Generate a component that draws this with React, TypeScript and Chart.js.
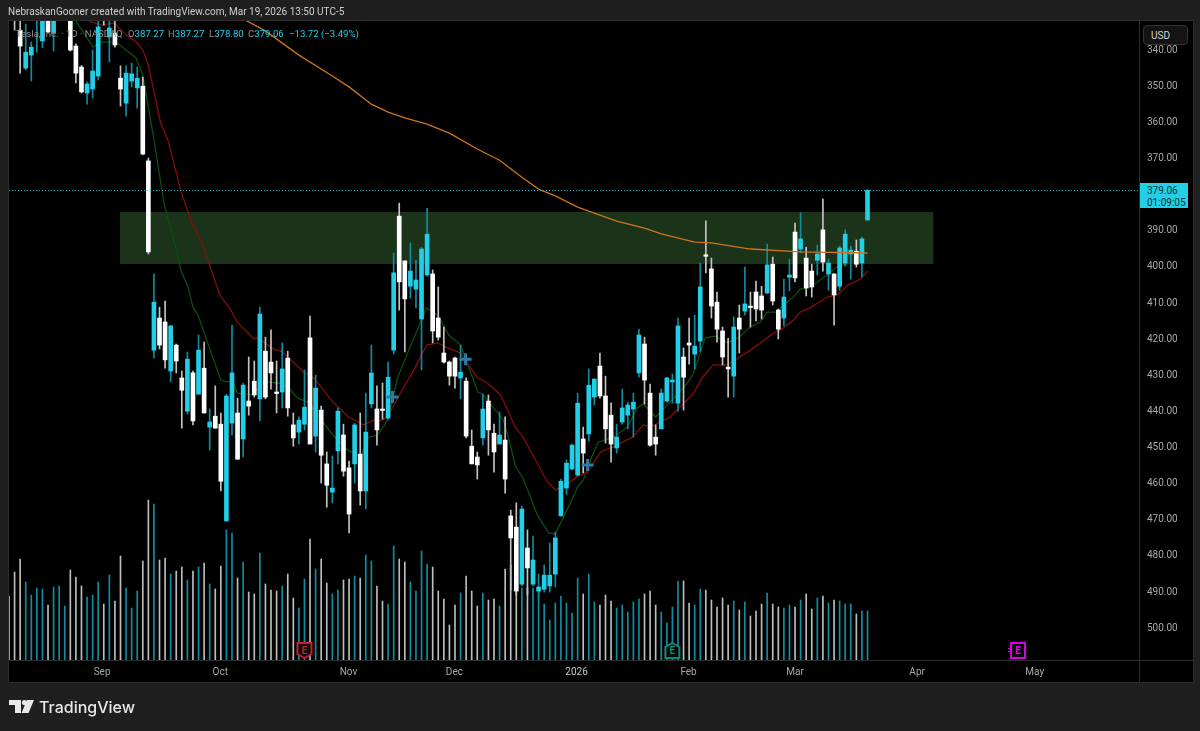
import { useEffect, useRef } from "react";
import { Chart, registerables } from "chart.js";

Chart.register(...registerables);

// daily bars (axis is inverted, prices grow downwards)
const opens = [
  322.0, 327.7, 334.7, 345.2, 341.6, 331.3, 337.7, 330.5, 335.5, 329.7,
  329.1, 329.1, 339.1, 344.9, 352.1, 351.0, 347.4, 327.7, 336.6, 335.5,
  348.0, 354.9, 348.8, 350.7, 350.2, 370.9, 423.3, 414.4, 415.5, 429.1,
  421.9, 431.0, 440.2, 429.6, 435.5, 428.3, 444.6, 441.6, 443.8, 470.6,
  443.5, 440.7, 447.9, 437.4, 431.9, 436.8, 423.6, 426.6, 434.9, 434.9,
  425.5, 444.0, 446.0, 443.8, 419.9, 447.1, 439.9, 454.8, 462.6, 451.2,
  446.8, 455.9, 454.8, 452.1, 462.3, 438.2, 439.6, 439.6, 442.1, 423.3,
  386.2, 398.6, 405.6, 406.4, 414.7, 402.5, 402.2, 414.4, 424.1, 426.6,
  425.5, 431.0, 431.9, 449.9, 452.9, 447.6, 437.4, 446.3, 449.3, 448.2,
  469.2, 472.3, 488.1, 478.1, 488.1, 490.0, 489.5, 488.6, 485.3, 469.2,
  461.5, 456.2, 457.9, 447.9, 446.5, 436.3, 427.7, 436.0, 441.3, 450.4,
  443.2, 441.3, 439.6, 429.6, 421.6, 435.2, 447.4, 445.1, 437.4, 432.1,
  438.0, 425.2, 421.3, 424.4, 420.8, 396.9, 400.8, 410.0, 418.0, 428.0,
  430.5, 414.4, 412.5, 411.1, 407.2, 408.3, 407.5, 399.5, 412.2, 414.4,
  403.1, 390.6, 395.3, 397.8, 401.4, 398.4, 390.0, 402.2, 402.2, 405.6,
  399.2, 396.7, 395.9, 399.2, 387.27,
];
const closes = [
  325.0, 330.5, 339.1, 340.8, 339.4, 329.1, 330.5, 335.2, 329.1, 327.7,
  326.9, 340.2, 346.6, 351.8, 349.6, 346.0, 333.8, 330.5, 334.1, 338.8,
  351.0, 346.6, 346.8, 348.0, 369.0, 396.1, 410.0, 421.9, 426.0, 416.6,
  426.3, 434.4, 425.8, 442.9, 423.3, 440.7, 443.2, 444.9, 459.6, 436.0,
  429.6, 453.5, 433.0, 438.8, 435.7, 413.3, 436.3, 429.6, 435.2, 428.5,
  439.3, 447.6, 442.7, 439.1, 449.3, 433.8, 452.4, 460.7, 461.5, 440.2,
  456.8, 468.7, 444.0, 462.3, 446.0, 429.6, 445.4, 439.9, 430.8, 401.9,
  404.4, 409.1, 401.4, 403.9, 395.3, 391.2, 418.0, 419.7, 426.6, 430.5,
  430.5, 429.4, 447.1, 454.8, 455.1, 439.6, 445.4, 451.5, 446.8, 459.0,
  475.3, 490.0, 467.3, 483.6, 481.4, 488.9, 485.6, 485.6, 475.3, 459.6,
  454.6, 449.6, 438.0, 451.8, 433.0, 431.3, 436.0, 445.1, 449.3, 447.4,
  439.3, 438.5, 437.7, 419.1, 431.6, 449.6, 449.3, 435.2, 431.0, 431.6,
  416.6, 430.8, 421.9, 422.2, 405.8, 397.2, 411.1, 417.5, 425.2, 428.5,
  416.9, 417.5, 410.5, 411.4, 411.9, 412.2, 399.7, 409.7, 417.5, 408.6,
  402.5, 403.3, 392.5, 406.1, 405.8, 396.7, 398.9, 399.2, 408.0, 395.0,
  391.2, 395.6, 399.5, 392.5, 379.06,
];
const lows = [
  321.0, 326.4, 331.9, 333.0, 338.0, 328.0, 329.5, 329.5, 328.0, 326.5,
  326.4, 328.0, 338.5, 344.5, 349.1, 340.2, 331.9, 326.5, 331.9, 331.9,
  344.6, 344.6, 343.8, 344.9, 347.7, 370.1, 402.2, 411.4, 409.7, 416.4,
  421.6, 429.1, 423.8, 429.1, 419.1, 421.1, 439.6, 433.2, 440.7, 435.5,
  416.4, 436.6, 432.4, 425.2, 426.3, 411.4, 419.7, 417.7, 426.3, 421.3,
  423.6, 440.7, 441.8, 428.8, 413.9, 430.2, 438.8, 451.5, 452.6, 439.3,
  443.8, 454.0, 443.5, 440.7, 435.2, 421.9, 433.2, 432.4, 426.6, 396.4,
  382.6, 398.6, 393.6, 398.4, 394.8, 384.0, 401.1, 405.8, 416.9, 426.3,
  425.2, 421.9, 431.0, 445.4, 451.5, 435.5, 435.7, 443.8, 440.4, 441.8,
  467.6, 465.6, 466.5, 473.1, 474.8, 485.3, 482.8, 476.7, 473.7, 459.0,
  453.7, 449.3, 435.2, 444.6, 428.5, 431.3, 424.1, 430.5, 437.9, 443.8,
  434.1, 437.7, 435.2, 417.5, 419.7, 432.7, 444.0, 434.1, 430.8, 429.9,
  414.4, 422.7, 414.4, 413.6, 399.2, 387.5, 397.8, 407.2, 416.9, 420.0,
  414.1, 410.8, 400.3, 407.2, 404.2, 405.6, 393.9, 397.5, 411.9, 403.6,
  398.1, 388.1, 385.3, 394.8, 399.5, 394.2, 381.5, 398.1, 402.2, 394.5,
  390.0, 394.5, 392.8, 392.0, 378.8,
];
const highs = [
  326.0, 334.7, 346.6, 345.7, 348.8, 340.8, 339.6, 335.5, 340.5, 330.5,
  330.5, 340.5, 349.3, 352.1, 355.2, 353.5, 348.5, 333.3, 343.5, 339.4,
  355.7, 358.5, 350.4, 356.3, 369.2, 396.7, 425.5, 423.0, 428.3, 432.1,
  429.6, 444.9, 441.0, 444.0, 435.5, 440.7, 451.0, 444.9, 462.3, 470.6,
  446.8, 453.5, 452.9, 441.3, 436.3, 442.9, 436.8, 434.1, 440.7, 439.3,
  441.6, 449.9, 449.3, 445.4, 449.3, 451.5, 460.1, 466.8, 465.6, 454.8,
  458.2, 473.9, 460.1, 466.2, 467.3, 439.3, 449.6, 442.4, 442.4, 424.4,
  412.2, 423.8, 408.9, 411.6, 428.8, 402.8, 421.3, 420.5, 426.9, 433.0,
  433.8, 436.8, 447.6, 454.8, 459.0, 449.6, 452.4, 457.1, 449.3, 462.9,
  489.7, 491.1, 488.6, 491.1, 488.6, 491.7, 490.3, 490.3, 488.9, 469.2,
  463.2, 456.5, 458.2, 457.3, 448.5, 438.5, 436.6, 449.0, 454.3, 451.8,
  443.8, 445.1, 447.4, 430.8, 438.2, 449.9, 452.4, 445.1, 437.7, 438.0,
  440.2, 439.9, 427.2, 428.5, 423.8, 401.9, 414.4, 421.1, 427.4, 436.3,
  436.3, 424.1, 413.6, 416.9, 415.2, 414.7, 407.5, 410.8, 420.2, 416.6,
  406.9, 404.4, 396.4, 408.3, 408.6, 402.5, 401.4, 406.7, 416.4, 406.7,
  400.0, 403.6, 400.3, 403.1, 387.27,
];
// volume in millions of shares
const volumes = [
  64, 88, 101, 78, 65, 72, 71, 55, 73, 74, 54, 90, 83, 74, 63, 65, 78, 56, 85, 59,
  104, 72, 52, 69, 99, 160, 156, 100, 102, 86, 89, 93, 80, 89, 93, 97, 76, 71, 94, 130,
  127, 82, 98, 68, 66, 107, 76, 70, 69, 74, 86, 62, 52, 81, 121, 91, 101, 77, 66, 70,
  80, 81, 84, 82, 105, 99, 74, 59, 56, 114, 101, 98, 78, 69, 109, 96, 93, 69, 61, 35,
  55, 67, 84, 69, 54, 67, 60, 61, 54, 91, 95, 75, 72, 72, 72, 69, 56, 40, 57, 64,
  57, 47, 82, 66, 86, 58, 55, 65, 59, 52, 55, 48, 58, 61, 66, 69, 55, 48, 37, 53,
  79, 79, 57, 55, 71, 70, 60, 53, 62, 55, 59, 50, 58, 44, 49, 56, 67, 56, 53, 52,
  55, 53, 60, 66, 51, 62, 64, 57, 60, 59, 56, 56, 46, 49, 49,
];

// moving averages, read at the bends only
const slowMaBars = [42, 46, 52, 58, 61, 65, 68, 71, 75, 79, 84, 88, 92, 95, 98, 102, 106, 109, 114, 117, 123, 126, 133, 142, 154];
const slowMaValues = [331.6, 334.9, 341.6, 347.4, 350.4, 355.2, 357.4, 359.0, 360.7, 363.2, 367.6, 370.7, 375.4, 378.7, 380.6, 383.7, 385.9, 387.6, 389.5, 391.1, 393.4, 393.6, 395.3, 396.1, 396.4];
const redMaBars = [
  14.3, 16.5, 18.8, 21.0, 22.8, 24.0, 24.9, 27.2, 28.5, 30.8, 32.6, 34.4, 35.7, 37.8, 39.8, 40.9, 43.9, 44.6, 47.5, 49.1,
  52.9, 54.7, 58.1, 60.9, 63.6, 65.4, 66.7, 67.9, 70.3, 72.9, 74.9, 76.9, 78.7, 81.0, 83.9, 85.8, 88.2, 90.9, 92.1, 96.6,
  98.0, 99.8, 102.0, 103.8, 106.1, 108.4, 111.8, 113.8, 115.1, 118.6, 122.8, 124.4, 126.3, 128.9, 133.0, 134.8, 137.1, 138.4, 140.7, 141.9,
  143.7, 146.8, 148.6, 150.5, 152.7, 154,
];
const redMaValues = [
  332.2, 333.3, 332.7, 336.0, 338.0, 340.2, 343.8, 360.4, 365.1, 379.0, 387.3, 392.8, 398.4, 408.0, 412.2, 415.5, 420.2, 419.9, 423.0, 423.8,
  429.4, 431.0, 437.7, 441.8, 444.0, 442.7, 442.9, 441.8, 434.9, 428.0, 421.9, 421.3, 422.7, 424.1, 430.8, 432.4, 435.7, 444.9, 447.1, 459.8,
  462.0, 460.7, 458.2, 457.1, 451.5, 450.1, 447.4, 444.0, 444.6, 441.8, 435.2, 430.8, 427.4, 427.4, 423.3, 421.3, 418.6, 417.7, 415.0, 412.8,
  411.6, 408.6, 408.0, 405.3, 403.6, 401.4,
];
const greenMaBars = [
  12.0, 15.1, 16.5, 19.2, 22.8, 24.0, 26.0, 27.8, 30.5, 30.8, 32.1, 33.0, 33.9, 36.7, 38.0, 38.9, 40.1, 41.0, 43.7, 45.7,
  48.2, 50.0, 51.8, 53.6, 58.1, 60.8, 63.1, 64.5, 66.1, 67.9, 69.7, 71.7, 74.9, 76.9, 78.9, 81.0, 84.1, 85.1, 88.7, 89.6,
  90.9, 92.1, 94.8, 96.8, 98.0, 100.7, 102.0, 103.0, 104.3, 105.7, 108.4, 110.9, 112.7, 113.8, 116.0, 118.6, 121.7, 122.8, 124.9, 126.7,
  128.9, 130.8, 133.0, 134.8, 136.0, 137.5, 140.7, 141.9, 143.7, 146.8, 148.7, 150.9, 154,
];
const greenMaValues = [
  332.2, 339.4, 338.0, 338.0, 342.4, 347.1, 365.1, 382.6, 398.4, 401.1, 405.8, 411.4, 413.6, 426.0, 431.6, 432.1, 431.9, 435.2, 435.7, 432.1,
  432.4, 433.5, 436.6, 437.7, 446.8, 451.0, 452.9, 447.4, 446.8, 442.7, 431.0, 423.3, 411.6, 413.6, 419.1, 421.9, 434.9, 435.7, 442.7, 447.6,
  455.7, 458.4, 469.0, 473.9, 474.2, 465.6, 461.2, 459.3, 453.7, 448.8, 447.4, 444.6, 439.3, 438.2, 441.8, 437.7, 432.4, 429.6, 419.9, 419.4,
  421.3, 419.9, 416.9, 415.5, 412.8, 412.8, 408.6, 406.4, 405.8, 402.5, 400.0, 399.2, 395.0,
];

// cross markers
const crossBars = [68.8, 81.9, 103.8];
const crossPrices = [436.3, 425.8, 455.1];

// shaded zone
const zoneBars = [19.9, 165.8];
const zonePrices = [385.05, 399.45];

const lastPrice = 379.06;

const earningsBars = [53, 119, 181];
const earningsColors = ["#c0202f", "#0e8a7b", "#dc00e6"];
const earningsKinds = ["past", "next", "future"];

const priceTicks = [340, 350, 360, 370, 390, 400, 410, 420, 430, 440, 450, 460, 470, 480, 490, 500];
const monthTicks = [16.7, 37.9, 60.9, 79.9, 101.8, 121.9, 141, 162.9, 184];
const monthLabels = ["Sep", "Oct", "Nov", "Dec", "2026", "Feb", "Mar", "Apr", "May"];

const legendValues = [
  ["O", "387.27"],
  ["H", "387.27"],
  ["L", "378.80"],
  ["C", "379.06"],
];
const legendLefts = [128, 168, 209, 248];

const FONT = "Roboto, sans-serif";
const CYAN = "#22cfe8";
const WHITE = "#ffffff";

const isCyan = (i: number) => closes[i] < opens[i];

const paneDecor = {
  id: "paneDecor",
  beforeDraw(chart: any) {
    const { ctx, chartArea: a } = chart;
    ctx.save();
    ctx.fillStyle = "#1f1f1f";
    ctx.fillRect(0, 0, chart.width, chart.height);
    ctx.fillStyle = "#000000";
    ctx.fillRect(a.left, a.top, 1184, 661);
    ctx.strokeStyle = "#2c2c2c";
    ctx.strokeRect(a.left - 0.5, a.top - 0.5, 1185, 662);
    ctx.beginPath();
    ctx.moveTo(a.right + 0.5, a.top);
    ctx.lineTo(a.right + 0.5, a.top + 661);
    ctx.moveTo(a.left, a.bottom + 0.5);
    ctx.lineTo(a.left + 1184, a.bottom + 0.5);
    ctx.stroke();
    ctx.restore();
  },
  beforeDatasetsDraw(chart: any) {
    const { ctx, scales } = chart;
    const x0 = scales.x.getPixelForValue(zoneBars[0]);
    const x1 = scales.x.getPixelForValue(zoneBars[1]);
    const y0 = scales.y.getPixelForValue(zonePrices[0]);
    const y1 = scales.y.getPixelForValue(zonePrices[1]);
    ctx.save();
    ctx.fillStyle = "#1a3319";
    ctx.fillRect(x0, y0, x1 - x0, y1 - y0);
    ctx.restore();
  },
  afterDatasetsDraw(chart: any) {
    const { ctx, scales, chartArea: a } = chart;
    const y = Math.round(scales.y.getPixelForValue(lastPrice)) + 0.5;
    ctx.save();
    ctx.strokeStyle = "#1fb4ca";
    ctx.setLineDash([1, 2]);
    ctx.beginPath();
    ctx.moveTo(a.left, y);
    ctx.lineTo(a.right, y);
    ctx.stroke();
    ctx.setLineDash([]);

    earningsBars.forEach((bar, k) => {
      const cx = scales.x.getPixelForValue(bar);
      const top = a.bottom - 17;
      const bot = a.bottom - 2;
      const l = cx - 7;
      const r = cx + 7;
      ctx.strokeStyle = earningsColors[k];
      ctx.fillStyle = "#0a0a0a";
      ctx.lineWidth = 2;
      ctx.beginPath();
      if (earningsKinds[k] === "past") {
        ctx.moveTo(l, top);
        ctx.lineTo(r, top);
        ctx.lineTo(r, bot - 4);
        ctx.lineTo(cx, bot);
        ctx.lineTo(l, bot - 4);
      } else if (earningsKinds[k] === "next") {
        ctx.moveTo(cx, top);
        ctx.lineTo(r, top + 4);
        ctx.lineTo(r, bot);
        ctx.lineTo(l, bot);
        ctx.lineTo(l, top + 4);
      } else {
        ctx.moveTo(l, top);
        ctx.lineTo(r, top);
        ctx.lineTo(r, bot);
        ctx.lineTo(l, bot);
      }
      ctx.closePath();
      ctx.fill();
      ctx.stroke();
      if (earningsKinds[k] === "future") {
        // small dashes on the left side of the future marker
        ctx.lineWidth = 1;
        ctx.beginPath();
        ctx.moveTo(l - 3, top + 5.5);
        ctx.lineTo(l, top + 5.5);
        ctx.moveTo(l - 3, top + 8.5);
        ctx.lineTo(l, top + 8.5);
        ctx.stroke();
      }
      ctx.fillStyle = earningsColors[k];
      ctx.font = `bold 10px ${FONT}`;
      ctx.textAlign = "center";
      ctx.textBaseline = "middle";
      ctx.fillText("E", cx, (top + bot) / 2 + 0.5);
    });
    ctx.restore();
  },
};

const box = (left: number, top: number, extra: any = {}) => ({
  position: "absolute" as const,
  left,
  top,
  whiteSpace: "nowrap" as const,
  fontFamily: FONT,
  ...extra,
});

export default function App() {
  const canvasRef = useRef<HTMLCanvasElement>(null);

  useEffect(() => {
    if (!canvasRef.current) return;
    const barCount = opens.length;
    const idx = Array.from({ length: barCount }, (_, i) => i);
    const chart = new Chart(canvasRef.current, {
      type: "bar",
      data: {
        datasets: [
          {
            type: "bar",
            data: idx.map((i) => ({ x: i, y: volumes[i] })),
            yAxisID: "yVol",
            backgroundColor: idx.map((i) => (isCyan(i) ? "#0f8ea3" : "#bdbdbd")),
            barThickness: 1,
            maxBarThickness: 1,
            grouped: false,
            order: 7,
          },
          {
            type: "line",
            data: greenMaBars.map((b, i) => ({ x: b, y: greenMaValues[i] })),
            borderColor: "#0c4d10",
            borderWidth: 1.3,
            pointRadius: 0,
            order: 6,
          },
          {
            type: "line",
            data: redMaBars.map((b, i) => ({ x: b, y: redMaValues[i] })),
            borderColor: "#860c0c",
            borderWidth: 1.3,
            pointRadius: 0,
            order: 5,
          },
          {
            type: "bar",
            data: idx.map((i) => ({ x: i, y: [lows[i], highs[i]] })),
            backgroundColor: idx.map((i) => (isCyan(i) ? "#108ca1" : "#c4c4c4")),
            barThickness: 1,
            maxBarThickness: 1,
            grouped: false,
            order: 4,
          },
          {
            type: "bar",
            data: idx.map((i) => ({ x: i, y: [opens[i], closes[i]] })),
            backgroundColor: idx.map((i) => (isCyan(i) ? CYAN : WHITE)),
            barThickness: 4,
            maxBarThickness: 4,
            minBarLength: 1.5,
            grouped: false,
            order: 3,
          },
          {
            type: "line",
            data: slowMaBars.map((b, i) => ({ x: b, y: slowMaValues[i] })),
            borderColor: "#cf741c",
            borderWidth: 1.3,
            pointRadius: 0,
            order: 2,
          },
          {
            type: "scatter",
            data: crossBars.map((b, i) => ({ x: b, y: crossPrices[i] })),
            pointStyle: "cross",
            pointRadius: 6,
            pointBorderColor: "#2f7aa3",
            pointBorderWidth: 3,
            order: 1,
          },
        ],
      } as any,
      options: {
        animation: false,
        responsive: false,
        devicePixelRatio: 1,
        events: [],
        layout: { padding: { left: 8, top: 21, right: 8, bottom: 49 } },
        plugins: { legend: { display: false }, tooltip: { enabled: false } },
        scales: {
          x: {
            type: "linear",
            min: 0,
            max: 202.7,
            offset: false,
            grid: { display: false, offset: false, drawTicks: false },
            border: { display: false },
            afterFit: (s: any) => {
              s.height = 22;
            },
            afterBuildTicks: (s: any) => {
              s.ticks = monthTicks.map((value) => ({ value }));
            },
            ticks: {
              autoSkip: false,
              maxRotation: 0,
              padding: 6,
              color: (c: any) => (c.tick && c.tick.value === 101.8 ? "#c8c8c8" : "#a8a8a8"),
              font: { family: FONT, size: 10 },
              callback: (v: any) => monthLabels[monthTicks.indexOf(v)],
            },
          },
          y: {
            type: "linear",
            position: "right",
            reverse: true,
            min: 332.16,
            max: 509.1,
            grid: { display: false, drawTicks: false },
            border: { display: false },
            afterFit: (s: any) => {
              s.width = 53;
            },
            afterBuildTicks: (s: any) => {
              s.ticks = priceTicks.map((value) => ({ value }));
            },
            ticks: {
              autoSkip: false,
              padding: 8,
              labelOffset: 1,
              color: "#a8a8a8",
              font: { family: FONT, size: 10 },
              callback: (v: any) => Number(v).toFixed(2),
            },
          },
          yVol: {
            type: "linear",
            display: false,
            min: 0,
            max: 639,
          },
        },
      } as any,
      plugins: [paneDecor],
    });
    return () => chart.destroy();
  }, []);

  const textRow = { fontSize: 9.6, lineHeight: "14px" };

  return (
    <div style={{ position: "absolute", left: 0, top: 0, width: 1200, height: 731, overflow: "hidden", background: "#1f1f1f" }}>
      <canvas ref={canvasRef} width={1200} height={731} style={{ display: "block" }} />

      <div style={box(8, 5, { fontSize: 10, lineHeight: "14px", color: "#cfcfcf" })}>
        NebraskanGooner created with TradingView.com, Mar 19, 2026 13:50 UTC-5
      </div>

      <div style={box(16, 27, { ...textRow, color: "#8f8f8f" })}>Tesla, Inc. · 1D · NASDAQ</div>
      {legendValues.map(([k, v], i) => (
        <div key={k} style={box(legendLefts[i], 27, { ...textRow, color: "#8f8f8f" })}>
          {k}
          <span style={{ color: CYAN }}>{v}</span>
        </div>
      ))}
      <div style={box(289, 27, { ...textRow, color: CYAN })}>−13.72 (−3.49%)</div>

      <div style={box(1143, 25, { width: 45, height: 20, boxSizing: "border-box", padding: "4px 0 0 7px", fontSize: 10, color: "#d6d6d6", background: "#141414", border: "1px solid #333", borderRadius: 4 })}>
        USD
      </div>

      <div style={box(1140, 183, { width: 48, height: 25, boxSizing: "border-box", paddingLeft: 7, fontSize: 10, lineHeight: "12px", paddingTop: 1.5, color: "#06323a", background: CYAN })}>
        {lastPrice.toFixed(2)}
        <br />
        01:09:05
      </div>

      <svg style={{ position: "absolute", left: 9, top: 700 }} width="25" height="14" viewBox="0 0 25 14">
        <path d="M0 0H12V13H6V5H0Z" fill="#e8e8e8" />
        <circle cx="15.5" cy="2.6" r="2.6" fill="#e8e8e8" />
        <path d="M18 0H25L19.5 13H12.5Z" fill="#e8e8e8" />
      </svg>
      <div style={box(39, 697, { fontSize: 16, lineHeight: "20px", fontWeight: 500, color: "#e8e8e8", fontFamily: "Inter, sans-serif" })}>
        TradingView
      </div>
    </div>
  );
}
